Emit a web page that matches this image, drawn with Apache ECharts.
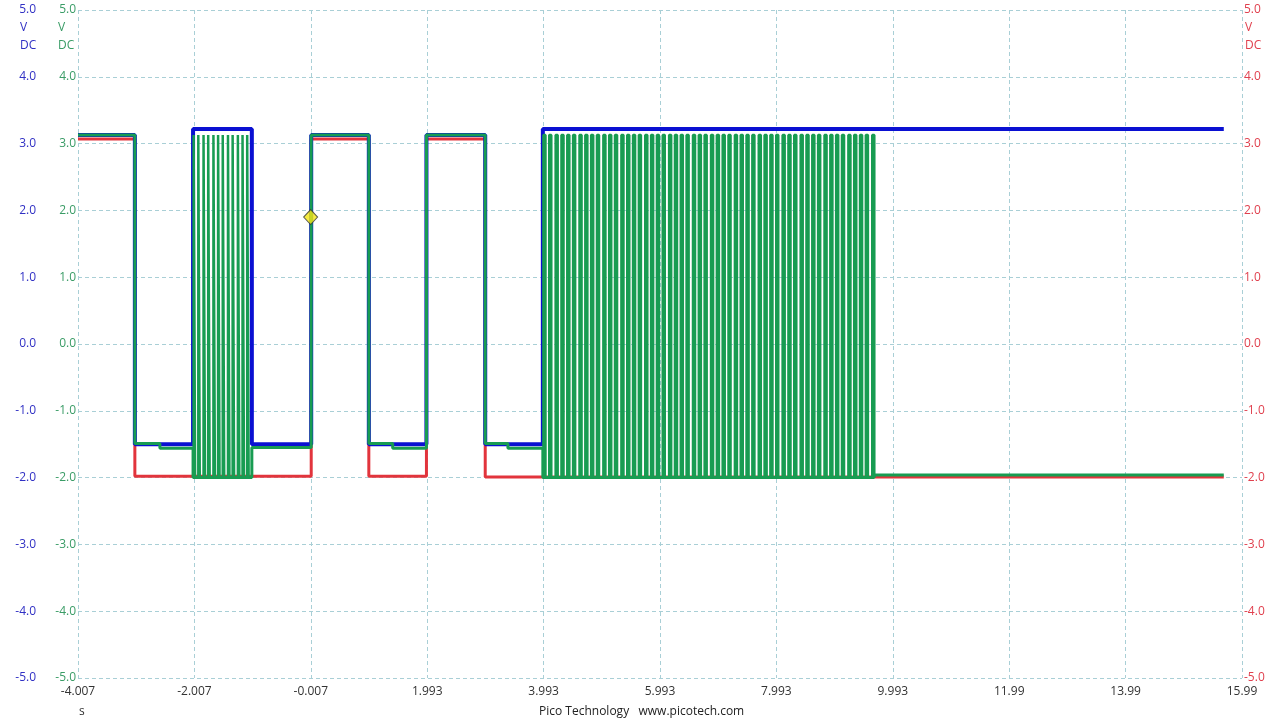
<!DOCTYPE html>
<html><head><meta charset="utf-8">
<script src="https://cdn.jsdelivr.net/npm/echarts@6/dist/echarts.min.js"></script>
<style>html,body{margin:0;padding:0;background:#fff}#c{width:1280px;height:720px}</style>
</head><body><div id="c"></div>
<script>
// ---- axis definitions ----
const xTickLabels = ['-4.007','-2.007','-0.007','1.993','3.993','5.993','7.993','9.993','11.99','13.99','15.99'];
const xStart = -4.007;      // time (s) at left edge of the screen
const xSpan = 20;           // 10 divisions of 2 s

// ---- Channel A (blue): step levels, value held from each time until the next ----
const blueTimes = [-4.007, -3.03, -2.03, -1.02, 0.0, 0.99, 1.98, 2.99, 3.98, 15.68];
const blueVolts = [3.13, -1.50, 3.22, -1.50, 3.13, -1.50, 3.13, -1.50, 3.22, 3.22];

// ---- Channel C (red) ----
const redTimes = [-4.007, -3.03, 0.0, 0.99, 1.98, 2.99, 15.68];
const redVolts = [3.07, -1.98, 3.07, -1.98, 3.07, -1.99, -1.99];

// ---- Channel B (green): base levels ----
const greenTimes = [-4.007, -3.03, -2.60, -2.03, -1.02, 0.0, 0.99, 1.40, 1.98, 2.99, 3.38, 3.98, 9.67, 15.68];
const greenVolts = [3.13, -1.49, -1.56, -2.00, -1.55, 3.13, -1.49, -1.56, 3.13, -1.49, -1.56, -2.00, -1.96, -1.96];

// green pulse bursts: rise times (s) and pulse durations (s)
const burst1Rises = [-2.02, -1.94, -1.85, -1.77, -1.68, -1.60, -1.52, -1.43, -1.35, -1.26, -1.18, -1.10];
const burst1Width = 0.025;
const burst2Rises = [3.99, 4.09, 4.20, 4.30, 4.40, 4.50, 4.61, 4.71, 4.81, 4.91, 5.02, 5.12, 5.22, 5.33,
  5.43, 5.53, 5.63, 5.74, 5.84, 5.94, 6.04, 6.15, 6.25, 6.35, 6.45, 6.56, 6.66, 6.76, 6.87, 6.97,
  7.07, 7.17, 7.28, 7.38, 7.48, 7.58, 7.69, 7.79, 7.89, 7.99, 8.10, 8.20, 8.30, 8.41, 8.51, 8.61,
  8.71, 8.82, 8.92, 9.02, 9.12, 9.23, 9.33, 9.43, 9.53, 9.64];
const burst2Width = 0.035;
const pulseHigh = 3.13;
const pulseLow = -2.00;

// trigger marker
const triggerTime = -0.01;
const triggerVolts = 1.90;

// ---- build series data ----
const toX = t => t - xStart;
const stepData = (ts, vs) => ts.map((t, i) => [toX(t), vs[i]]);
const pulseData = (rises, w) => {
  const out = [];
  rises.forEach(r => {
    out.push([toX(r), pulseLow], [toX(r), pulseHigh], [toX(r + w), pulseHigh], [toX(r + w), pulseLow]);
  });
  return out;
};

const font = 'Open Sans';
const gridCol = '#a9cfd6';
const blueC = '#0a10d2', greenC = '#189c52', redC = '#e2343c';
const blueL = '#3030c4', greenL = '#3a9c66', redL = '#e0404e';

const yAx = (pos, offset, color, split) => ({
  type: 'value', min: -5, max: 5, interval: 1, position: pos, offset: offset,
  axisLine: {show: false}, axisTick: {show: false},
  splitLine: {show: split, lineStyle: {color: gridCol, type: [4, 3], width: 1}},
  axisLabel: {color: color, margin: 2, fontSize: 12, fontFamily: font, formatter: v => v.toFixed(1)}
});

const chart = echarts.init(document.getElementById('c'), null, {renderer: 'canvas'});
const txt = (x, y, s, fill, align) => ({
  type: 'text', x: x, y: y, silent: true,
  style: {text: s, fill: fill, font: '12px "' + font + '"', align: align || 'left', verticalAlign: 'middle'}
});
chart.setOption({
  animation: false,
  backgroundColor: '#ffffff',
  grid: {left: 78, right: 38, top: 10, bottom: 42, containLabel: false},
  xAxis: {
    type: 'value', min: 0, max: xSpan, interval: 2,
    axisLine: {show: false}, axisTick: {show: false},
    splitLine: {show: true, lineStyle: {color: gridCol, type: [4, 3], width: 1}},
    axisLabel: {color: '#333', fontSize: 12, fontFamily: font, margin: 8, showMinLabel: true, showMaxLabel: true,
      formatter: v => xTickLabels[Math.round(v / 2)]}
  },
  yAxis: [yAx('left', 40, blueL, false), yAx('left', 0, greenL, true), yAx('right', 0, redL, false)],
  series: [
    {type: 'line', yAxisIndex: 2, step: 'end', data: stepData(redTimes, redVolts), showSymbol: false,
      lineStyle: {color: redC, width: 3}},
    {type: 'line', yAxisIndex: 0, step: 'end', data: stepData(blueTimes, blueVolts), showSymbol: false,
      lineStyle: {color: blueC, width: 4}},
    {type: 'line', yAxisIndex: 1, step: 'end', data: stepData(greenTimes, greenVolts), showSymbol: false,
      lineStyle: {color: greenC, width: 3}},
    {type: 'line', yAxisIndex: 1, data: pulseData(burst1Rises, burst1Width), showSymbol: false,
      lineStyle: {color: greenC, width: 2.5}},
    {type: 'line', yAxisIndex: 1, data: pulseData(burst2Rises, burst2Width), showSymbol: false,
      lineStyle: {color: greenC, width: 2.5}},
    {type: 'scatter', yAxisIndex: 1, data: [[toX(triggerTime), triggerVolts]], symbol: 'diamond', symbolSize: [14, 15],
      itemStyle: {color: '#f4e614', borderColor: '#333', borderWidth: 1}, z: 10}
  ],
  graphic: [
    txt(20, 28, 'V', blueL), txt(20, 46, 'DC', blueL),
    txt(58, 28, 'V', greenL), txt(58, 46, 'DC', greenL),
    txt(1245, 28, 'V', redL), txt(1245, 46, 'DC', redL),
    txt(79, 712, 's', '#333'),
    txt(539, 712, 'Pico Technology   www.picotech.com', '#222')
  ]
});
</script></body></html>
